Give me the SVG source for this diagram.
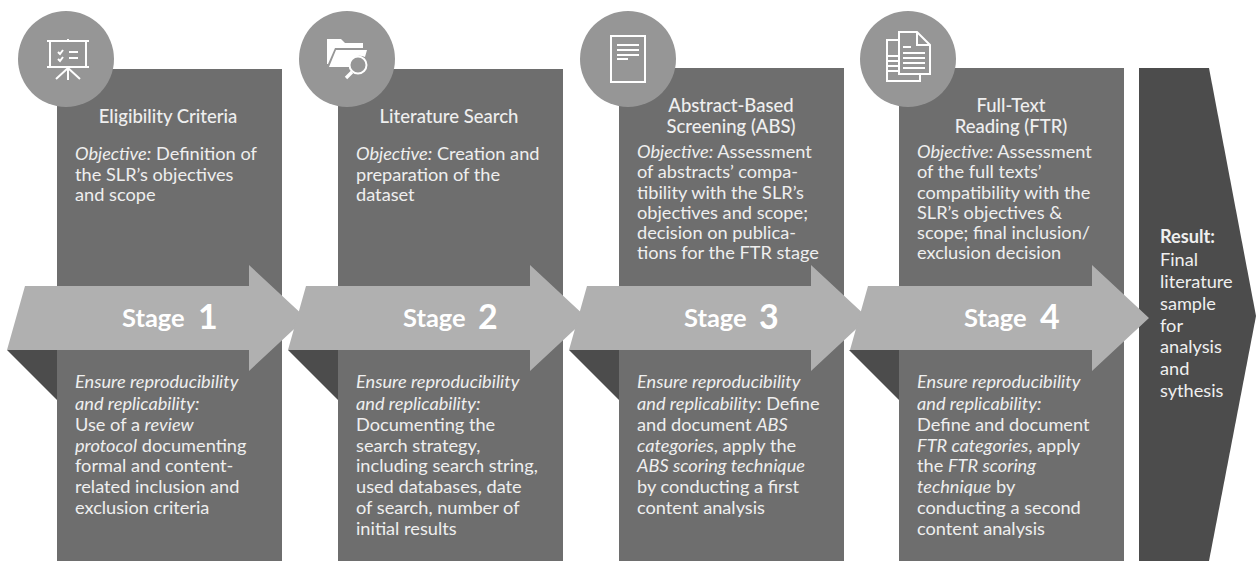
<svg xmlns="http://www.w3.org/2000/svg" width="1256" height="561" viewBox="0 0 1256 561">
<style>
text{font-family:Lato,"Noto Sans",sans-serif;fill:#efefef}
.b{font-size:18.2px}
.t{font-size:18.5px;font-weight:500;text-anchor:middle}
.s{font-size:25.5px;font-weight:700;fill:#fff}
.n{font-size:34px;font-weight:700;fill:#fff}
.r{fill:#6e6e6e}.c{fill:#969696}.a{fill:#b0b0b0}.d{fill:#4c4c4c}
.i{fill:none;stroke:#fff;stroke-width:2}
.w{fill:#fff}
.e{font-style:italic}
</style>
<defs>
<polygon id="arrow" class="a" points="25,286 249,286 249,265 306,318 249,371 249,350 7,350"/>
</defs>
<g id="result"><polygon class="d" points="1139,68 1209,68 1256,316 1209,561 1139,561"/>
<text class="b"><tspan x="1160" y="243" font-weight="700">Result:</tspan><tspan x="1160" y="266">Final</tspan><tspan x="1160" y="288">literature</tspan><tspan x="1160" y="310">sample</tspan><tspan x="1160" y="332">for</tspan><tspan x="1160" y="353">analysis</tspan><tspan x="1160" y="375">and</tspan><tspan x="1160" y="397">sythesis</tspan></text></g>
<g id="stage4"><rect class="r" x="899" y="68" width="225" height="493"/>
<polygon class="d" points="849,350 899,350 899,400"/>
<circle class="c" cx="908" cy="59" r="48"/>
<g class="i"><path d="M899 40H887V81H920V74"/><path d="M899 32H917L930 45V74H899Z"/><path d="M917 32V45H930"/><path d="M903 47H911M903 53H925M903 58H925M903 63H925M903 68H925M887 56H899M887 61H899M887 66H899M887 71H899"/></g>
<text class="t"><tspan x="1011" y="112">Full-Text</tspan><tspan x="1011" y="133">Reading (FTR)</tspan></text>
<text class="b"><tspan x="917" y="158"><tspan class="e">Objective:</tspan> Assessment</tspan><tspan x="917" y="178">of the full texts’</tspan><tspan x="917" y="199">compatibility with the</tspan><tspan x="917" y="219">SLR’s objectives &amp;</tspan><tspan x="917" y="239">scope; final inclusion/</tspan><tspan x="917" y="259">exclusion decision</tspan></text>
<text class="b"><tspan x="917" y="388" class="e">Ensure reproducibility</tspan><tspan x="917" y="410" class="e">and replicability:</tspan><tspan x="917" y="431">Define and document</tspan><tspan x="917" y="452"><tspan class="e">FTR categories</tspan>, apply</tspan><tspan x="917" y="472">the <tspan class="e">FTR scoring</tspan></tspan><tspan x="917" y="493"><tspan class="e">technique</tspan> by</tspan><tspan x="917" y="514">conducting a second</tspan><tspan x="917" y="535">content analysis</tspan></text></g>
<g id="stage3"><rect class="r" x="619" y="68" width="225" height="493"/>
<polygon class="d" points="569,350 619,350 619,400"/>
<circle class="c" cx="628" cy="59" r="48"/>
<g class="i"><rect x="611" y="36" width="34" height="46"/><path d="M617 45H639M617 50H639M617 55H639M617 59H628"/></g>
<text class="t"><tspan x="731" y="112">Abstract-Based</tspan><tspan x="731" y="133">Screening (ABS)</tspan></text>
<text class="b"><tspan x="637" y="158"><tspan class="e">Objective:</tspan> Assessment</tspan><tspan x="637" y="178">of abstracts’ compa-</tspan><tspan x="637" y="199">tibility with the SLR’s</tspan><tspan x="637" y="219">objectives and scope;</tspan><tspan x="637" y="239">decision on publica-</tspan><tspan x="637" y="259">tions for the FTR stage</tspan></text>
<text class="b"><tspan x="637" y="388" class="e">Ensure reproducibility</tspan><tspan x="637" y="410"><tspan class="e">and replicability:</tspan> Define</tspan><tspan x="637" y="431">and document <tspan class="e">ABS</tspan></tspan><tspan x="637" y="452"><tspan class="e">categories</tspan>, apply the</tspan><tspan x="637" y="472"><tspan class="e">ABS scoring technique</tspan></tspan><tspan x="637" y="493">by conducting a first</tspan><tspan x="637" y="514">content analysis</tspan></text></g>
<g id="stage2"><rect class="r" x="338" y="69" width="225" height="492"/>
<polygon class="d" points="288,350 338,350 338,400"/>
<circle class="c" cx="347" cy="59" r="48"/>
<path class="w" d="M327 39H341L345 43H363V48H335L328 64H327Z"/><path class="w" d="M336 50H367L365 57Q358 54 353 58Q349 62 350 67H329Z"/>
<circle cx="358" cy="65" r="8.5" fill="#969696" stroke="#fff" stroke-width="2"/>
<path d="M352 72L346 78" fill="none" stroke="#fff" stroke-width="3.4"/>
<text class="t" x="449" y="123">Literature Search</text>
<text class="b"><tspan x="356" y="160"><tspan class="e">Objective:</tspan> Creation and</tspan><tspan x="356" y="181">preparation of the</tspan><tspan x="356" y="201">dataset</tspan></text>
<text class="b"><tspan x="356" y="388" class="e">Ensure reproducibility</tspan><tspan x="356" y="410" class="e">and replicability:</tspan><tspan x="356" y="431">Documenting the</tspan><tspan x="356" y="452">search strategy,</tspan><tspan x="356" y="472">including search string,</tspan><tspan x="356" y="493">used databases, date</tspan><tspan x="356" y="514">of search, number of</tspan><tspan x="356" y="535">initial results</tspan></text></g>
<g id="stage1"><rect class="r" x="57" y="69" width="225" height="492"/>
<polygon class="d" points="7,350 57,350 57,400"/>
<circle class="c" cx="66" cy="59" r="48"/>
<g class="i" stroke-width="1.6"><path d="M47 41H89M50 41V66M86 41V66M47 67H89M68 39V41M68 67V80M68 68L56 79M68 68L80 79"/><path d="M58 52L60 54L63 50M58 59L60 61L63 57"/><path d="M69 52H78M69 58H78"/></g>
<text class="t" x="168" y="123">Eligibility Criteria</text>
<text class="b"><tspan x="75" y="160"><tspan class="e">Objective:</tspan> Definition of</tspan><tspan x="75" y="181">the SLR’s objectives</tspan><tspan x="75" y="201">and scope</tspan></text>
<text class="b"><tspan x="75" y="388" class="e">Ensure reproducibility</tspan><tspan x="75" y="410" class="e">and replicability:</tspan><tspan x="75" y="431">Use of a <tspan class="e">review</tspan></tspan><tspan x="75" y="452"><tspan class="e">protocol</tspan> documenting</tspan><tspan x="75" y="472">formal and content-</tspan><tspan x="75" y="493">related inclusion and</tspan><tspan x="75" y="514">exclusion criteria</tspan></text></g>
<g id="connectors">
<use href="#arrow"/><use href="#arrow" x="281"/><use href="#arrow" x="562"/><use href="#arrow" x="843"/>
</g>
<g id="labels">
<text class="s" x="122" y="327">Stage</text><text class="n" x="198" y="329">1</text>
<text class="s" x="403" y="327">Stage</text><text class="n" x="478" y="329">2</text>
<text class="s" x="684" y="327">Stage</text><text class="n" x="759" y="329">3</text>
<text class="s" x="964" y="327">Stage</text><text class="n" x="1040" y="329">4</text>
</g>
</svg>
